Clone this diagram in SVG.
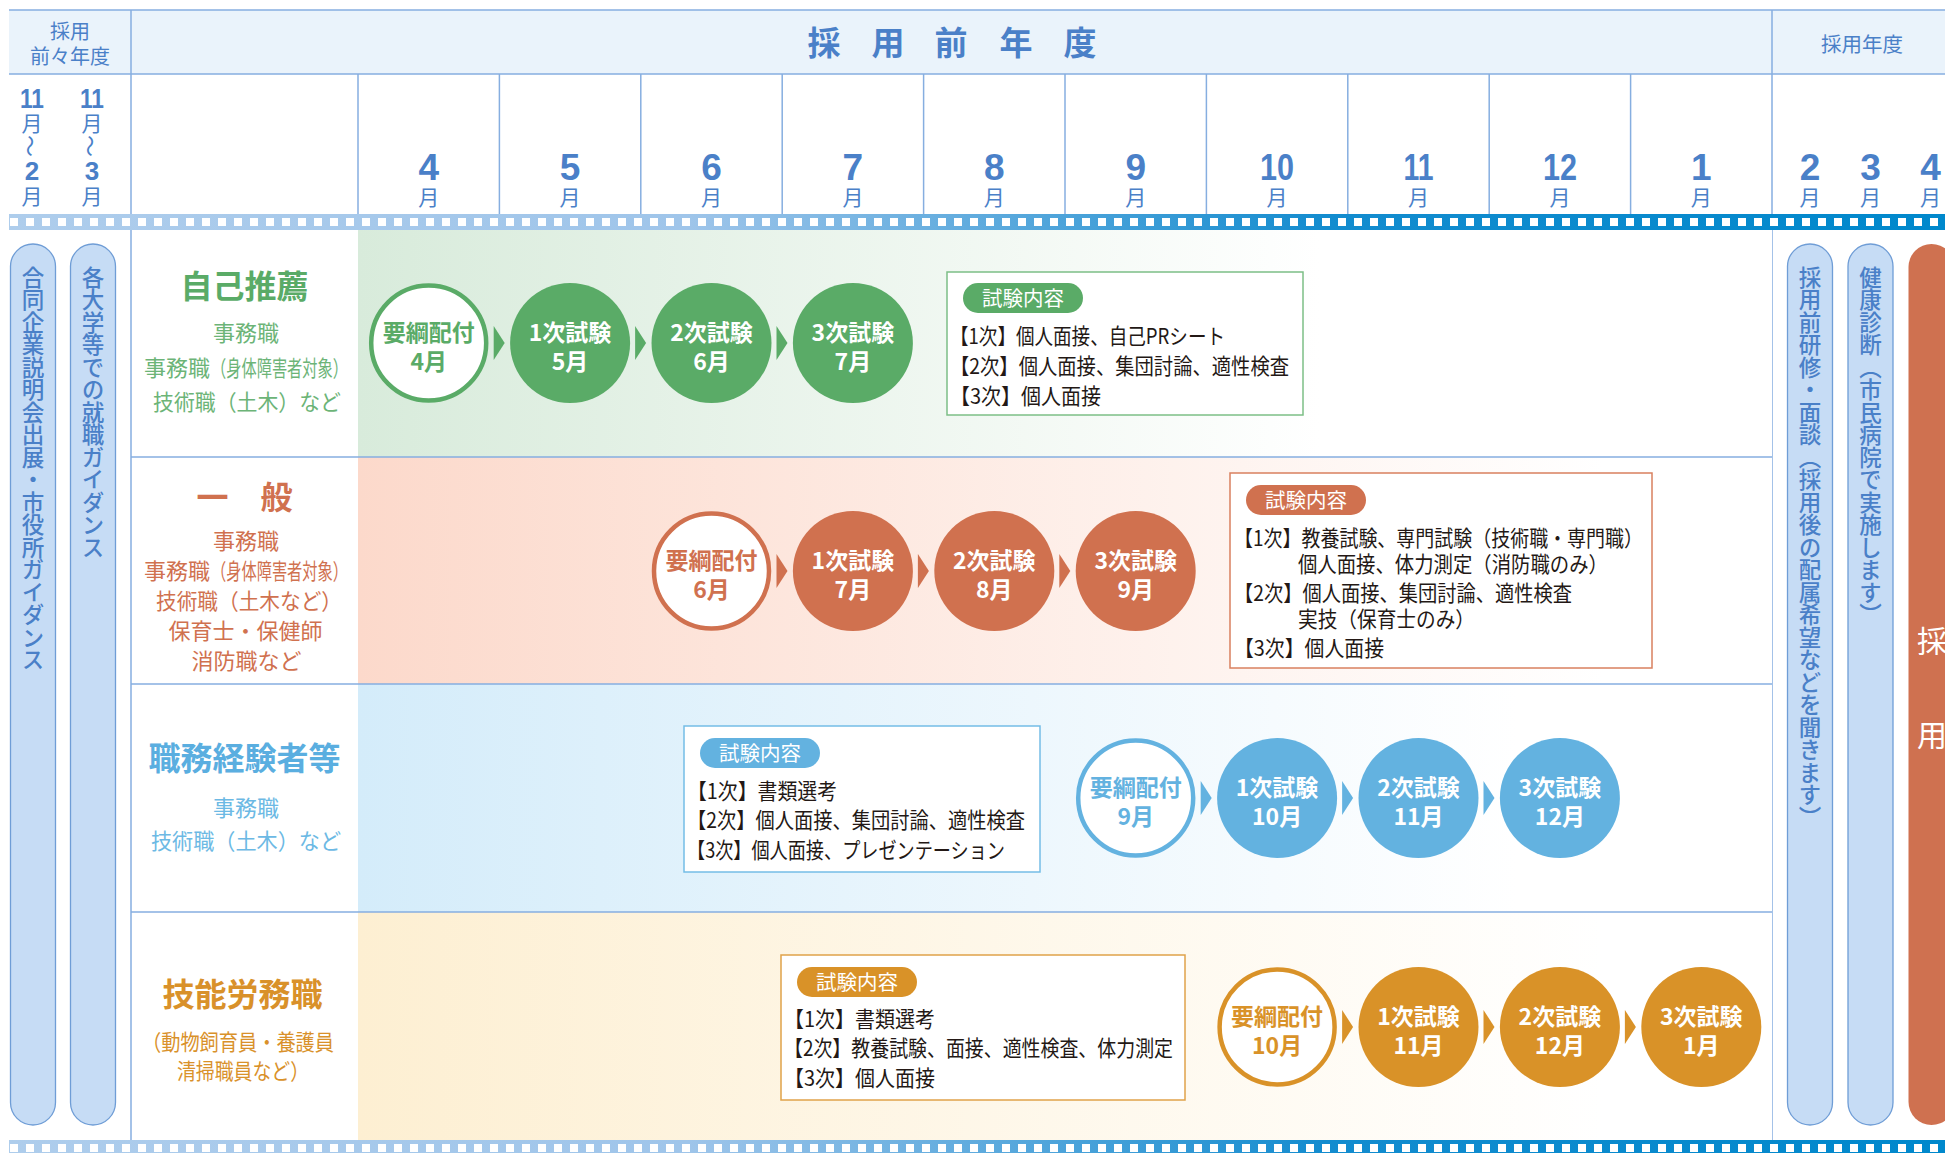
<svg xmlns="http://www.w3.org/2000/svg" width="1945" height="1153" viewBox="0 0 1945 1153">
<style>
.jp{font-family:"Noto Sans CJK JP","Noto Sans CJK SC",sans-serif}
.num{font-family:"Liberation Sans",Arial,sans-serif;font-weight:bold;fill:#4a80c8}
.hb{fill:#4a80c8}
.ln{stroke:#86aee0;stroke-width:1.5;fill:none}
.vt{font-family:"Noto Sans CJK JP",sans-serif;writing-mode:vertical-rl;fill:#4a80c8;font-weight:500}
.pill{fill:#c6dcf5;stroke:#6f9dd6;stroke-width:1.3}
.ct{font-family:"Noto Sans CJK JP",sans-serif;font-size:23px;font-weight:bold;text-anchor:middle}
.bt{font-family:"Noto Sans CJK JP",sans-serif;font-size:21.5px;fill:#231815}
.badge{font-family:"Noto Sans CJK JP",sans-serif;font-size:20.5px;fill:#fff;text-anchor:middle}
.title{font-family:"Noto Sans CJK JP",sans-serif;font-size:32px;font-weight:bold;text-anchor:middle}
.sub{font-family:"Noto Sans CJK JP",sans-serif;font-size:22px;text-anchor:middle}
.subl{font-family:"Noto Sans CJK JP",sans-serif;font-size:22px}
.mo{font-family:"Noto Sans CJK JP",sans-serif;font-size:21px;fill:#4a80c8;text-anchor:middle}
</style>
<defs>
<linearGradient id="strip" x1="9" y1="0" x2="1945" y2="0" gradientUnits="userSpaceOnUse">
<stop offset="0" stop-color="#aecdec"/><stop offset="0.35" stop-color="#9fc5ea"/><stop offset="0.68" stop-color="#138ccf"/><stop offset="1" stop-color="#0088cc"/>
</linearGradient>
<linearGradient id="g1" x1="358" y1="0" x2="1772" y2="0" gradientUnits="userSpaceOnUse">
<stop offset="0" stop-color="#d8ebdb"/><stop offset="0.68" stop-color="#ffffff"/>
</linearGradient>
<linearGradient id="g2" x1="358" y1="0" x2="1772" y2="0" gradientUnits="userSpaceOnUse">
<stop offset="0" stop-color="#fcd9cb"/><stop offset="0.88" stop-color="#ffffff"/>
</linearGradient>
<linearGradient id="g3" x1="358" y1="0" x2="1772" y2="0" gradientUnits="userSpaceOnUse">
<stop offset="0" stop-color="#d4ecfa"/><stop offset="0.82" stop-color="#ffffff"/>
</linearGradient>
<linearGradient id="g4" x1="358" y1="0" x2="1772" y2="0" gradientUnits="userSpaceOnUse">
<stop offset="0" stop-color="#fdefd2"/><stop offset="0.88" stop-color="#ffffff"/>
</linearGradient>
</defs>
<rect width="1945" height="1153" fill="#fff"/>

<!-- header -->
<g id="header">
<rect x="9" y="10" width="1936" height="64" fill="#eaf3fb"/>
<line class="ln" x1="9" y1="10" x2="1945" y2="10"/>
<line class="ln" x1="9" y1="74" x2="1945" y2="74"/>
<text class="jp hb" x="70" y="39" font-size="20" text-anchor="middle">採用</text>
<text class="jp hb" x="70" y="64" font-size="20" text-anchor="middle">前々年度</text>
<g class="jp hb" font-size="33" font-weight="bold" text-anchor="middle">
<text x="824" y="55">採</text><text x="888" y="55">用</text><text x="951" y="55">前</text><text x="1016" y="55">年</text><text x="1080" y="55">度</text>
</g>
<text class="jp hb" x="1862" y="52" font-size="20.5" text-anchor="middle">採用年度</text>
</g>

<!-- grid lines -->
<g id="grid">
<line class="ln" x1="131" y1="10" x2="131" y2="1140"/>
<line class="ln" x1="1772" y1="10" x2="1772" y2="1140"/>
<line class="ln" x1="358" y1="74" x2="358" y2="214"/>
<line class="ln" x1="499.4" y1="74" x2="499.4" y2="214"/>
<line class="ln" x1="640.8" y1="74" x2="640.8" y2="214"/>
<line class="ln" x1="782.2" y1="74" x2="782.2" y2="214"/>
<line class="ln" x1="923.6" y1="74" x2="923.6" y2="214"/>
<line class="ln" x1="1065" y1="74" x2="1065" y2="214"/>
<line class="ln" x1="1206.4" y1="74" x2="1206.4" y2="214"/>
<line class="ln" x1="1347.8" y1="74" x2="1347.8" y2="214"/>
<line class="ln" x1="1489.2" y1="74" x2="1489.2" y2="214"/>
<line class="ln" x1="1630.6" y1="74" x2="1630.6" y2="214"/>
</g>

<!-- months -->
<g id="months">
<text class="num" x="32" y="108" font-size="28" text-anchor="middle" textLength="24" lengthAdjust="spacingAndGlyphs">11</text>
<text class="mo" x="32" y="131">月</text>
<text class="jp hb" x="32" y="146" font-size="22" text-anchor="middle" dominant-baseline="central" transform="rotate(90 32 146)">〜</text>
<text class="num" x="32" y="180" font-size="26" text-anchor="middle">2</text>
<text class="mo" x="32" y="204">月</text>
<text class="num" x="92" y="108" font-size="28" text-anchor="middle" textLength="24" lengthAdjust="spacingAndGlyphs">11</text>
<text class="mo" x="92" y="131">月</text>
<text class="jp hb" x="92" y="146" font-size="22" text-anchor="middle" dominant-baseline="central" transform="rotate(90 92 146)">〜</text>
<text class="num" x="92" y="180" font-size="26" text-anchor="middle">3</text>
<text class="mo" x="92" y="204">月</text>

<g font-size="37" text-anchor="middle">
<text class="num" x="428.7" y="180">4</text>
<text class="num" x="570.1" y="180">5</text>
<text class="num" x="711.5" y="180">6</text>
<text class="num" x="852.9" y="180">7</text>
<text class="num" x="994.3" y="180">8</text>
<text class="num" x="1135.7" y="180">9</text>
<text class="num" x="1277.1" y="180" textLength="34" lengthAdjust="spacingAndGlyphs">10</text>
<text class="num" x="1418.5" y="180" textLength="30" lengthAdjust="spacingAndGlyphs">11</text>
<text class="num" x="1559.9" y="180" textLength="34" lengthAdjust="spacingAndGlyphs">12</text>
<text class="num" x="1701.3" y="180">1</text>
<text class="num" x="1810" y="180">2</text>
<text class="num" x="1870.5" y="180">3</text>
<text class="num" x="1930.5" y="180">4</text>
</g>
<text class="mo" x="428.7" y="205">月</text>
<text class="mo" x="570.1" y="205">月</text>
<text class="mo" x="711.5" y="205">月</text>
<text class="mo" x="852.9" y="205">月</text>
<text class="mo" x="994.3" y="205">月</text>
<text class="mo" x="1135.7" y="205">月</text>
<text class="mo" x="1277.1" y="205">月</text>
<text class="mo" x="1418.5" y="205">月</text>
<text class="mo" x="1559.9" y="205">月</text>
<text class="mo" x="1701.3" y="205">月</text>
<text class="mo" x="1810" y="205">月</text>
<text class="mo" x="1870.5" y="205">月</text>
<text class="mo" x="1930.5" y="205">月</text>
</g>

<!-- strips -->
<g id="strips">
<rect x="9" y="214" width="1936" height="16" fill="url(#strip)"/>
<line x1="10" y1="222" x2="1945" y2="222" stroke="#fff" stroke-width="8" stroke-dasharray="8 8"/>
<rect x="9" y="1140" width="1936" height="16" fill="url(#strip)"/>
<line x1="10" y1="1148" x2="1945" y2="1148" stroke="#fff" stroke-width="8" stroke-dasharray="8 8"/>
</g>

<!-- row backgrounds -->
<g id="rows">
<rect x="358" y="230" width="1414" height="227" fill="url(#g1)"/>
<rect x="358" y="457" width="1414" height="227" fill="url(#g2)"/>
<rect x="358" y="684" width="1414" height="228" fill="url(#g3)"/>
<rect x="358" y="912" width="1414" height="228" fill="url(#g4)"/>
<line class="ln" x1="131" y1="457" x2="1772" y2="457"/>
<line class="ln" x1="131" y1="684" x2="1772" y2="684"/>
<line class="ln" x1="131" y1="912" x2="1772" y2="912"/>
</g>

<!-- side pills -->
<g id="pill-left1">
<rect class="pill" x="10.5" y="244" width="45" height="881" rx="22.5"/>
<text class="vt" x="33" y="266" font-size="22.5">合同企業説明会出展・市役所ガイダンス</text>
</g>
<g id="pill-left2">
<rect class="pill" x="70.5" y="244" width="45" height="881" rx="22.5"/>
<text class="vt" x="93" y="266" font-size="22.5">各大学等での就職ガイダンス</text>
</g>
<g id="pill-right1">
<rect class="pill" x="1787.5" y="244" width="45" height="881" rx="22.5"/>
<text class="vt" x="1810" y="266" font-size="22.5">採用前研修・面談（採用後の配属希望などを聞きます）</text>
</g>
<g id="pill-right2">
<rect class="pill" x="1848" y="244" width="45" height="881" rx="22.5"/>
<text class="vt" x="1870.5" y="266" font-size="22.5">健康診断（市民病院で実施します）</text>
</g>
<g id="pill-saiyo">
<rect x="1908.5" y="244" width="46" height="881" rx="23" fill="#cf7150"/>
<text class="jp" x="1932" y="652" font-size="30" fill="#fff" text-anchor="middle">採</text>
<text class="jp" x="1932" y="746" font-size="30" fill="#fff" text-anchor="middle">用</text>
</g>

<!-- category labels -->
<g id="label-jiko" fill="#5aab67">
<text class="title" x="244.5" y="298">自己推薦</text>
<g fill="#6cb477">
<text class="sub" x="246" y="341">事務職</text>
<text class="subl" x="144" y="376">事務職</text>
<text class="subl" x="211" y="376" font-size="21" textLength="137" lengthAdjust="spacingAndGlyphs">（身体障害者対象）</text>
<text class="sub" x="247" y="410" textLength="188" lengthAdjust="spacingAndGlyphs">技術職（土木）など</text>
</g>
</g>
<g id="label-ippan" fill="#d0714f">
<text class="title" x="244.5" y="509">一　般</text>
<text class="sub" x="246" y="549">事務職</text>
<text class="subl" x="144" y="579">事務職</text>
<text class="subl" x="211" y="579" font-size="21" textLength="137" lengthAdjust="spacingAndGlyphs">（身体障害者対象）</text>
<text class="sub" x="249" y="609" textLength="186" lengthAdjust="spacingAndGlyphs">技術職（土木など）</text>
<text class="sub" x="245.5" y="639" textLength="154" lengthAdjust="spacingAndGlyphs">保育士・保健師</text>
<text class="sub" x="246.5" y="669" textLength="110" lengthAdjust="spacingAndGlyphs">消防職など</text>
</g>
<g id="label-keiken" fill="#5aaee0">
<text class="title" x="244.5" y="770">職務経験者等</text>
<g fill="#6cb9e4">
<text class="sub" x="246" y="816">事務職</text>
<text class="sub" x="246" y="849" textLength="190" lengthAdjust="spacingAndGlyphs">技術職（土木）など</text>
</g>
</g>
<g id="label-ginou" fill="#d9912a">
<text class="title" x="242.5" y="1006">技能労務職</text>
<text class="sub" x="238" y="1050" font-size="19.5" textLength="192" lengthAdjust="spacingAndGlyphs">（動物飼育員・養護員</text>
<text class="sub" x="243" y="1079" font-size="19.5" textLength="132" lengthAdjust="spacingAndGlyphs">清掃職員など）</text>
</g>

<!-- connectors -->
<g id="connectors">
<g fill="#5aab67">
<polygon points="493.7,326 504.7,343 493.7,360"/>
<polygon points="635.1,326 646.1,343 635.1,360"/>
<polygon points="776.5,326 787.5,343 776.5,360"/>
</g>
<g fill="#d0714f">
<polygon points="776.5,554 787.5,571 776.5,588"/>
<polygon points="917.9,554 928.9,571 917.9,588"/>
<polygon points="1059.3,554 1070.3,571 1059.3,588"/>
</g>
<g fill="#63b2e0">
<polygon points="1200.7,781 1211.7,798 1200.7,815"/>
<polygon points="1342.1,781 1353.1,798 1342.1,815"/>
<polygon points="1483.5,781 1494.5,798 1483.5,815"/>
</g>
<g fill="#d99228">
<polygon points="1342.1,1010 1353.1,1027 1342.1,1044"/>
<polygon points="1483.5,1010 1494.5,1027 1483.5,1044"/>
<polygon points="1624.9,1010 1635.9,1027 1624.9,1044"/>
</g>
</g>

<!-- row 1 circles -->
<g id="j0"><circle cx="428.7" cy="343" r="57.5" fill="#fff" stroke="#5aab67" stroke-width="4.5"/>
<text class="ct" x="428.7" y="341" fill="#5aab67">要綱配付</text><text class="ct" x="428.7" y="370" fill="#5aab67">4月</text></g>
<g id="j1"><circle cx="570.1" cy="343" r="60" fill="#5aab67"/>
<text class="ct" x="570.1" y="341" fill="#fff">1次試験</text><text class="ct" x="570.1" y="370" fill="#fff">5月</text></g>
<g id="j2"><circle cx="711.5" cy="343" r="60" fill="#5aab67"/>
<text class="ct" x="711.5" y="341" fill="#fff">2次試験</text><text class="ct" x="711.5" y="370" fill="#fff">6月</text></g>
<g id="j3"><circle cx="852.9" cy="343" r="60" fill="#5aab67"/>
<text class="ct" x="852.9" y="341" fill="#fff">3次試験</text><text class="ct" x="852.9" y="370" fill="#fff">7月</text></g>

<!-- row 2 circles -->
<g id="i0"><circle cx="711.5" cy="571" r="57.5" fill="#fff" stroke="#d0714f" stroke-width="4.5"/>
<text class="ct" x="711.5" y="569" fill="#d0714f">要綱配付</text><text class="ct" x="711.5" y="598" fill="#d0714f">6月</text></g>
<g id="i1"><circle cx="852.9" cy="571" r="60" fill="#d0714f"/>
<text class="ct" x="852.9" y="569" fill="#fff">1次試験</text><text class="ct" x="852.9" y="598" fill="#fff">7月</text></g>
<g id="i2"><circle cx="994.3" cy="571" r="60" fill="#d0714f"/>
<text class="ct" x="994.3" y="569" fill="#fff">2次試験</text><text class="ct" x="994.3" y="598" fill="#fff">8月</text></g>
<g id="i3"><circle cx="1135.7" cy="571" r="60" fill="#d0714f"/>
<text class="ct" x="1135.7" y="569" fill="#fff">3次試験</text><text class="ct" x="1135.7" y="598" fill="#fff">9月</text></g>

<!-- row 3 circles -->
<g id="k0"><circle cx="1135.7" cy="798" r="57.5" fill="#fff" stroke="#63b2e0" stroke-width="4.5"/>
<text class="ct" x="1135.7" y="796" fill="#63b2e0">要綱配付</text><text class="ct" x="1135.7" y="825" fill="#63b2e0">9月</text></g>
<g id="k1"><circle cx="1277.1" cy="798" r="60" fill="#63b2e0"/>
<text class="ct" x="1277.1" y="796" fill="#fff">1次試験</text><text class="ct" x="1277.1" y="825" fill="#fff">10月</text></g>
<g id="k2"><circle cx="1418.5" cy="798" r="60" fill="#63b2e0"/>
<text class="ct" x="1418.5" y="796" fill="#fff">2次試験</text><text class="ct" x="1418.5" y="825" fill="#fff">11月</text></g>
<g id="k3"><circle cx="1559.9" cy="798" r="60" fill="#63b2e0"/>
<text class="ct" x="1559.9" y="796" fill="#fff">3次試験</text><text class="ct" x="1559.9" y="825" fill="#fff">12月</text></g>

<!-- row 4 circles -->
<g id="g0"><circle cx="1277.1" cy="1027" r="57.5" fill="#fff" stroke="#d99228" stroke-width="4.5"/>
<text class="ct" x="1277.1" y="1025" fill="#d99228">要綱配付</text><text class="ct" x="1277.1" y="1054" fill="#d99228">10月</text></g>
<g id="g1n"><circle cx="1418.5" cy="1027" r="60" fill="#d99228"/>
<text class="ct" x="1418.5" y="1025" fill="#fff">1次試験</text><text class="ct" x="1418.5" y="1054" fill="#fff">11月</text></g>
<g id="g2n"><circle cx="1559.9" cy="1027" r="60" fill="#d99228"/>
<text class="ct" x="1559.9" y="1025" fill="#fff">2次試験</text><text class="ct" x="1559.9" y="1054" fill="#fff">12月</text></g>
<g id="g3n"><circle cx="1701.3" cy="1027" r="60" fill="#d99228"/>
<text class="ct" x="1701.3" y="1025" fill="#fff">3次試験</text><text class="ct" x="1701.3" y="1054" fill="#fff">1月</text></g>

<!-- info boxes -->
<g id="box-jiko">
<rect x="947" y="272" width="356" height="143" fill="#fff" stroke="#7cbf86" stroke-width="1.5"/>
<rect x="963" y="283" width="120" height="30" rx="15" fill="#5aab67"/>
<text class="badge" x="1023" y="306">試験内容</text>
<text class="bt" x="950" y="344" textLength="275" lengthAdjust="spacingAndGlyphs">【1次】個人面接、自己PRシート</text>
<text class="bt" x="950" y="374" textLength="339" lengthAdjust="spacingAndGlyphs">【2次】個人面接、集団討論、適性検査</text>
<text class="bt" x="950" y="404" textLength="151" lengthAdjust="spacingAndGlyphs">【3次】個人面接</text>
</g>
<g id="box-ippan">
<rect x="1230" y="473" width="422" height="195" fill="#fff" stroke="#d9805f" stroke-width="1.5"/>
<rect x="1246" y="485" width="120" height="30" rx="15" fill="#d0714f"/>
<text class="badge" x="1306" y="508">試験内容</text>
<text class="bt" x="1234" y="546" textLength="409" lengthAdjust="spacingAndGlyphs">【1次】教養試験、専門試験（技術職・専門職）</text>
<text class="bt" x="1298" y="572" textLength="310" lengthAdjust="spacingAndGlyphs">個人面接、体力測定（消防職のみ）</text>
<text class="bt" x="1234" y="601" textLength="338" lengthAdjust="spacingAndGlyphs">【2次】個人面接、集団討論、適性検査</text>
<text class="bt" x="1298" y="627" textLength="177" lengthAdjust="spacingAndGlyphs">実技（保育士のみ）</text>
<text class="bt" x="1234" y="656" textLength="150" lengthAdjust="spacingAndGlyphs">【3次】個人面接</text>
</g>
<g id="box-keiken">
<rect x="684" y="726" width="356" height="146" fill="#fff" stroke="#74bde6" stroke-width="1.5"/>
<rect x="700" y="738" width="120" height="30" rx="15" fill="#63b2e0"/>
<text class="badge" x="760" y="761">試験内容</text>
<text class="bt" x="687" y="799" textLength="150" lengthAdjust="spacingAndGlyphs">【1次】書類選考</text>
<text class="bt" x="687" y="828" textLength="338" lengthAdjust="spacingAndGlyphs">【2次】個人面接、集団討論、適性検査</text>
<text class="bt" x="687" y="858" textLength="318" lengthAdjust="spacingAndGlyphs">【3次】個人面接、プレゼンテーション</text>
</g>
<g id="box-ginou">
<rect x="781" y="955" width="404" height="145" fill="#fff" stroke="#e0a24a" stroke-width="1.5"/>
<rect x="797" y="967" width="120" height="30" rx="15" fill="#d99228"/>
<text class="badge" x="857" y="990">試験内容</text>
<text class="bt" x="784" y="1027" textLength="151" lengthAdjust="spacingAndGlyphs">【1次】書類選考</text>
<text class="bt" x="784" y="1056" textLength="389" lengthAdjust="spacingAndGlyphs">【2次】教養試験、面接、適性検査、体力測定</text>
<text class="bt" x="784" y="1086" textLength="151" lengthAdjust="spacingAndGlyphs">【3次】個人面接</text>
</g>
</svg>
